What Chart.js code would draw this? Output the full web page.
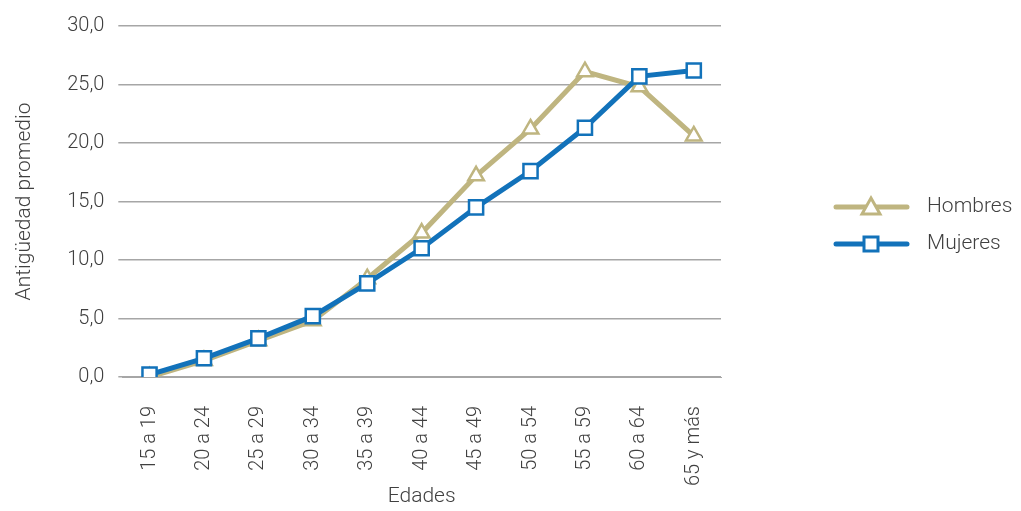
<!DOCTYPE html>
<html>
<head>
<meta charset="utf-8">
<script src="https://cdn.jsdelivr.net/npm/chart.js@4"></script>
<style>
  html, body { margin: 0; padding: 0; background: #fff; }
  #wrap { width: 1021px; height: 511px; }
</style>
</head>
<body>
<div id="wrap"><canvas id="myChart" width="1021" height="511"></canvas></div>
<script>
var edades = ["15 a 19", "20 a 24", "25 a 29", "30 a 34", "35 a 39", "40 a 44",
              "45 a 49", "50 a 54", "55 a 59", "60 a 64", "65 y más"];
var hombres = [0.0, 1.4, 3.1, 4.8, 8.4, 12.3, 17.2, 21.2, 26.1, 24.8, 20.6];
var mujeres = [0.2, 1.6, 3.3, 5.2, 8.0, 11.0, 14.5, 17.6, 21.3, 25.7, 26.2];
var yTicks = [0, 5, 10, 15, 20, 25, 30];

var tan = 'rgb(191, 181, 128)';
var blue = 'rgb(18, 114, 186)';
var textColor = '#404040';
var fontFam = 'Roboto, "Noto Sans", sans-serif';

// legend: line with marker drawn on top of the chart
var legendItems = [
    { text: 'Hombres', color: tan, shape: 'triangle', y: 207 },
    { text: 'Mujeres', color: blue, shape: 'rect', y: 244 }
];

var legendPlugin = {
    id: 'lineLegend',
    afterDraw: function(chart) {
        var ctx = chart.ctx;
        ctx.save();
        legendItems.forEach(function(item) {
            var x0 = 836, x1 = 907, cx = 871, cy = item.y;
            ctx.strokeStyle = item.color;
            ctx.lineWidth = 5;
            ctx.lineCap = 'round';
            ctx.beginPath();
            ctx.moveTo(x0, cy);
            ctx.lineTo(x1, cy);
            ctx.stroke();
            ctx.fillStyle = '#fff';
            ctx.lineWidth = 3;
            ctx.lineCap = 'butt';
            ctx.beginPath();
            if (item.shape === 'triangle') {
                ctx.moveTo(cx, cy - 9);
                ctx.lineTo(cx + 9, cy + 7);
                ctx.lineTo(cx - 9, cy + 7);
                ctx.closePath();
            } else {
                ctx.rect(cx - 7, cy - 7, 14, 14);
            }
            ctx.fill();
            ctx.stroke();
            ctx.fillStyle = textColor;
            ctx.font = '300 21px ' + fontFam;
            ctx.textBaseline = 'middle';
            ctx.fillText(item.text, 927, cy);
        });
        ctx.restore();
    }
};

var ctx = document.getElementById("myChart").getContext('2d');
var myChart = new Chart(ctx, {
    type: 'line',
    data: {
        labels: edades,
        datasets: [{
            label: 'Hombres',
            data: hombres,
            order: 1,
            borderColor: tan,
            borderWidth: 5,
            pointStyle: 'triangle',
            pointRadius: 9,
            pointBorderWidth: 2.5,
            pointBackgroundColor: '#fff',
            pointBorderColor: tan,
            tension: 0
        }, {
            label: 'Mujeres',
            data: mujeres,
            order: 0,
            borderColor: blue,
            borderWidth: 5,
            pointStyle: 'rect',
            pointRadius: 10,
            pointBorderWidth: 2.5,
            pointBackgroundColor: '#fff',
            pointBorderColor: blue,
            tension: 0
        }]
    },
    options: {
        responsive: false,
        animation: false,
        layout: {
            padding: { left: 12, right: 300, top: 13, bottom: 0 }
        },
        plugins: {
            legend: { display: false },
            tooltip: { enabled: false }
        },
        scales: {
            x: {
                offset: true,
                grid: { display: false, offset: true },
                border: { color: '#a6a6a6', width: 1 },
                afterFit: function(axis) { axis.height = 134; },
                ticks: {
                    color: textColor,
                    font: { family: fontFam, size: 20, weight: 300 },
                    minRotation: 90,
                    maxRotation: 90,
                    padding: 21
                },
                title: {
                    display: true,
                    text: 'Edades',
                    color: textColor,
                    font: { family: fontFam, size: 21, weight: 300 },
                    padding: { top: 0, bottom: 2 }
                }
            },
            y: {
                min: 0,
                max: 30,
                afterBuildTicks: function(axis) {
                    axis.ticks = yTicks.map(function(v) { return { value: v }; });
                },
                grid: { color: '#a6a6a6', lineWidth: 1.5, tickLength: 4 },
                border: { display: false },
                ticks: {
                    color: textColor,
                    font: { family: fontFam, size: 20, weight: 300 },
                    padding: 14,
                    callback: function(v) { return v.toFixed(1).replace('.', ','); }
                },
                title: {
                    display: true,
                    text: 'Antigüedad promedio',
                    color: textColor,
                    font: { family: fontFam, size: 21, weight: 300 },
                    padding: { top: 0, bottom: 16 }
                }
            }
        }
    },
    plugins: [legendPlugin]
});
</script>
</body>
</html>
